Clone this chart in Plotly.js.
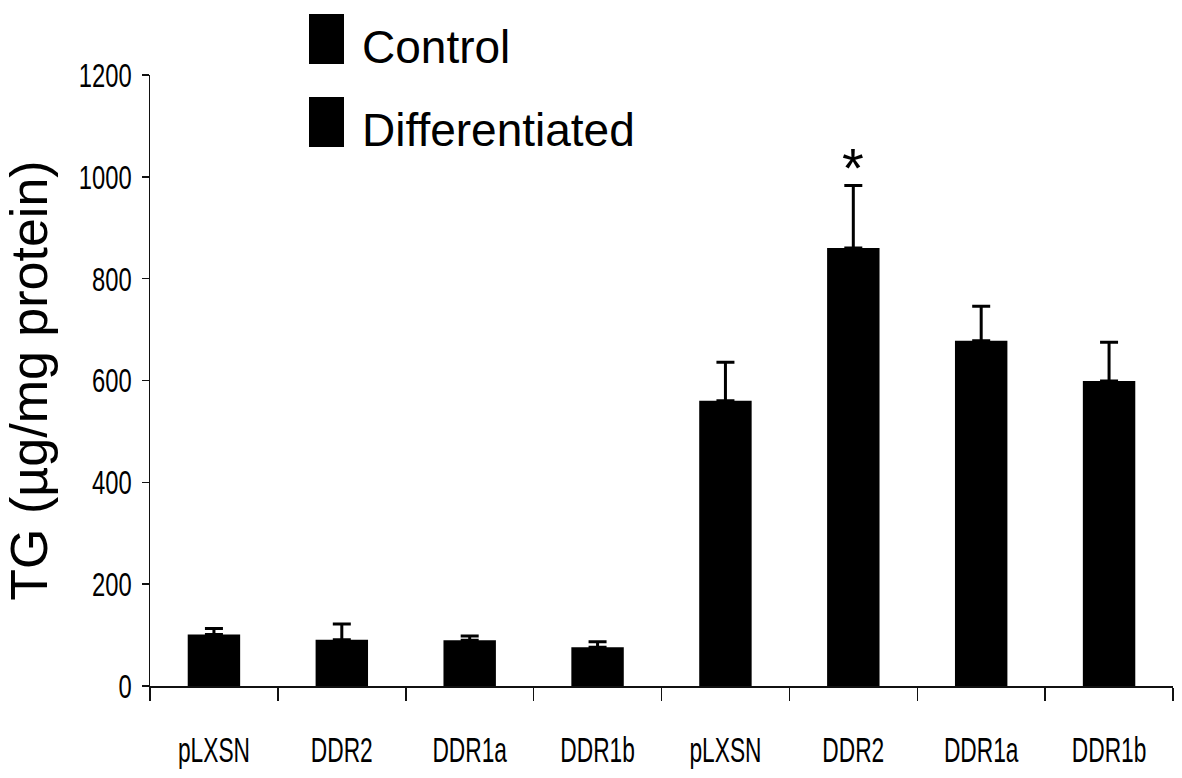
<!DOCTYPE html>
<html>
<head>
<meta charset="utf-8">
<script src="https://cdn.plot.ly/plotly-3.0.1.min.js"></script>
<style>
  html, body { margin: 0; padding: 0; background: #fff; }
  #chart { width: 1182px; height: 778px; }
</style>
</head>
<body>
<div id="chart"></div>
<script>
// Cell lines, shown once under each treatment group
const cellLines = ['pLXSN', 'DDR2', 'DDR1a', 'DDR1b'];
const groupNames = ['Control', 'Differentiated'];

// Triglyceride content (µg/mg protein), mean and SEM
const controlMean = [101, 91, 90, 76];
const controlErr = [12, 31, 8, 11];
const diffMean = [560, 860, 678, 599];
const diffErr = [76, 123, 68, 76];

// Tick labels for all eight bars
const tickLabels = cellLines.concat(cellLines);

const sans = '"Liberation Sans", Arial, Helvetica, sans-serif';

const n = cellLines.length;
const xControl = cellLines.map((_, i) => i);
const xDiff = cellLines.map((_, i) => i + n);

function barTrace(name, xs, ys, errs) {
  return {
    type: 'bar',
    name: name,
    x: xs,
    y: ys,
    width: 0.41,
    marker: { color: '#000', line: { width: 0 } },
    error_y: {
      type: 'data',
      symmetric: false,
      array: errs,
      arrayminus: errs.map(() => 0),
      color: '#000',
      thickness: 3,
      width: 9
    },
    showlegend: false,
    hoverinfo: 'x+y'
  };
}

const traces = [
  barTrace(groupNames[0], xControl, controlMean, controlErr),
  barTrace(groupNames[1], xDiff, diffMean, diffErr)
];

// Plot-area geometry in pixels, used to place the key in paper units
const W = 1182, H = 778;
const mL = 150, mR = 9, mT = 75, mB = 92;
const plotW = W - mL - mR, plotH = H - mT - mB;
const px = v => (v - mL) / plotW;
const py = v => (H - mB - v) / plotH;

const keyRows = [14, 97];   // top of each key swatch
const shapes = [];
const annotations = [];
groupNames.forEach((g, i) => {
  const top = keyRows[i];
  shapes.push({
    type: 'rect', xref: 'paper', yref: 'paper',
    x0: px(309), x1: px(344), y0: py(top + 50), y1: py(top),
    fillcolor: '#000', line: { width: 0 }
  });
  annotations.push({
    xref: 'paper', yref: 'paper',
    x: px(360), y: py(top + 33),
    xanchor: 'left', yanchor: 'middle',
    text: g, showarrow: false,
    font: { family: sans, size: 46, color: '#000' }
  });
});

// Significance marker above the DDR2 differentiated bar
annotations.push({
  xref: 'x', yref: 'y',
  x: xDiff[1], y: diffMean[1] + diffErr[1],
  xanchor: 'center', yanchor: 'bottom',
  yshift: -16,
  text: '*', showarrow: false,
  font: { family: sans, size: 56, color: '#000' }
});

const layout = {
  width: W, height: H,
  margin: { l: mL, r: mR, t: mT, b: mB, autoexpand: false },
  paper_bgcolor: '#fff',
  plot_bgcolor: '#fff',
  barmode: 'overlay',
  showlegend: false,
  xaxis: {
    range: [-0.5, 2 * n - 0.5],
    tickmode: 'array',
    tickvals: xControl.concat(xDiff),
    ticktext: tickLabels,
    ticks: '',
    ticklabelstandoff: 33,
    tickfont: { family: sans, size: 35, color: '#000' },
    showline: true, linecolor: '#111', linewidth: 1.5,
    showgrid: false, zeroline: false,
    minor: {
      tickmode: 'linear', tick0: -0.5, dtick: 1,
      ticks: 'outside', ticklen: 13, tickwidth: 1.5, tickcolor: '#111',
      showgrid: false
    },
    fixedrange: true
  },
  yaxis: {
    range: [0, 1200],
    tickmode: 'linear', tick0: 0, dtick: 200,
    ticks: 'outside', ticklen: 7, tickwidth: 1.5, tickcolor: '#111',
    ticklabelstandoff: 3,
    tickfont: { family: sans, size: 34, color: '#000' },
    showline: true, linecolor: '#111', linewidth: 1.5,
    showgrid: false, zeroline: false,
    title: {
      text: 'TG (µg/mg protein)',
      font: { family: sans, size: 52, color: '#000' },
      standoff: 10
    },
    fixedrange: true
  },
  shapes: shapes,
  annotations: annotations
};

// Tick labels are set in a condensed face: squeeze each one horizontally
// about its own anchor point.
function condense(gd, selector, sx) {
  gd.querySelectorAll(selector).forEach(t => {
    const x = parseFloat(t.getAttribute('x')) || 0;
    const prev = t.getAttribute('transform') || '';
    t.setAttribute('transform',
      prev + ' translate(' + x + ',0) scale(' + sx + ',1) translate(' + (-x) + ',0)');
  });
}

Plotly.newPlot('chart', traces, layout, { displayModeBar: false, staticPlot: true })
  .then(gd => {
    condense(gd, '.xtick text', 0.65);
    condense(gd, '.ytick text', 0.70);
  });
</script>
</body>
</html>
